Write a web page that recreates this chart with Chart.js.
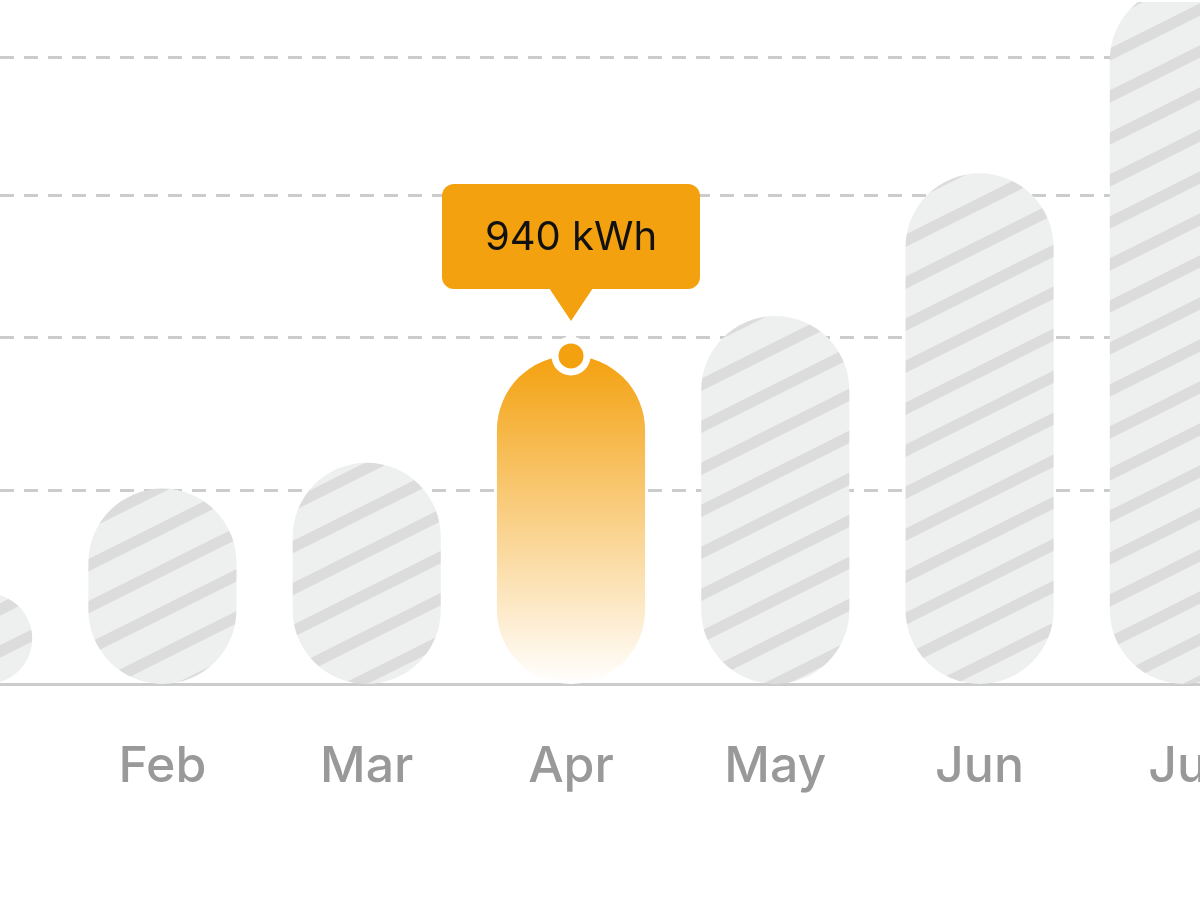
<!DOCTYPE html>
<html>
<head>
<meta charset="utf-8">
<script src="https://cdn.jsdelivr.net/npm/chart.js@4/dist/chart.umd.min.js"></script>
<style>
  html, body { margin: 0; padding: 0; background: #ffffff; overflow: hidden; }
  #wrap { position: absolute; left: -167px; top: -21px; width: 1476px; height: 974px; }
</style>
</head>
<body>
<div id="wrap"><canvas id="grafico"></canvas></div>
<script>
const meses = ["Jan", "Feb", "Mar", "Apr", "May", "Jun", "Jul"];
const consumo = [260, 560, 634, 940, 1054, 1463, 2000];
const linhasGrade = [554, 994, 1400, 1794];
const destaque = 3;
const unidade = "kWh";

function criarHachura() {
    const c = document.createElement("canvas");
    c.width = 84;
    c.height = 42;
    const g = c.getContext("2d");
    g.fillStyle = "#eeefef";
    g.fillRect(0, 0, 84, 42);
    g.strokeStyle = "#dcdcdc";
    g.lineWidth = 11;
    for (let k = -1; k <= 1; k++) {
        g.beginPath();
        g.moveTo(-84, 42 + k * 42 + 42);
        g.lineTo(168, k * 42 - 84 + 42);
        g.stroke();
    }
    return g.createPattern(c, "repeat");
}

const hachura = criarHachura();

function corBarra(context) {
    if (context.dataIndex !== destaque) return hachura;
    const area = context.chart.chartArea;
    if (!area) return "#f4a10f";
    const y = context.chart.scales.y;
    const grad = context.chart.ctx.createLinearGradient(0, y.getPixelForValue(consumo[destaque]), 0, area.bottom);
    grad.addColorStop(0, "#f4a10f");
    grad.addColorStop(1, "#ffffff");
    return grad;
}

const balao = {
    id: "balao",
    afterDraw(chart) {
        const ponto = chart.getDatasetMeta(1).data[destaque];
        if (!ponto) return;
        const ctx = chart.ctx;
        const cx = ponto.x;
        const base = ponto.y - 35;
        const w = 258, h = 105, r = 12;
        const x0 = cx - w / 2, y0 = base - 32 - h;
        ctx.save();
        ctx.fillStyle = "#f4a10f";
        ctx.beginPath();
        ctx.roundRect(x0, y0, w, h, r);
        ctx.fill();
        ctx.beginPath();
        ctx.moveTo(cx - 22, y0 + h - 1);
        ctx.lineTo(cx + 22, y0 + h - 1);
        ctx.lineTo(cx, base);
        ctx.closePath();
        ctx.fill();
        ctx.fillStyle = "#111111";
        ctx.font = "400 40px Inter";
        ctx.textAlign = "center";
        ctx.textBaseline = "middle";
        ctx.fillText(consumo[destaque] + " " + unidade, cx, y0 + h / 2 + 2);
        ctx.restore();
    }
};

const ctx = document.getElementById("grafico").getContext("2d");

new Chart(ctx, {
    type: "bar",
    data: {
        labels: meses,
        datasets: [{
            data: consumo,
            backgroundColor: corBarra,
            borderRadius: 80,
            borderSkipped: false,
            barPercentage: 0.725,
            categoryPercentage: 1,
            order: 2
        }, {
            type: "line",
            data: consumo.map((v, i) => i === destaque ? v : null),
            showLine: false,
            pointRadius: 16,
            pointBackgroundColor: "#f4a10f",
            pointBorderColor: "#ffffff",
            pointBorderWidth: 7,
            clip: false,
            order: 1
        }]
    },
    plugins: [balao],
    options: {
        responsive: true,
        maintainAspectRatio: false,
        animation: false,
        layout: { padding: { top: 0, bottom: 111, left: 0, right: 0 } },
        scales: {
            x: {
                grid: { display: false },
                border: { display: true, color: "#cccccc", width: 3 },
                ticks: {
                    padding: 45,
                    color: "#999999",
                    font: { size: 50, family: "Inter", weight: "500" }
                }
            },
            y: {
                min: 0,
                max: 1954,
                afterBuildTicks: (axis) => {
                    axis.ticks = linhasGrade.map((v) => ({ value: v }));
                },
                ticks: { display: false },
                border: { display: false, dash: [14, 10] },
                grid: { color: "#cccccc", lineWidth: 3, drawTicks: false }
            }
        },
        plugins: {
            legend: { display: false },
            tooltip: { enabled: false }
        }
    }
});
</script>
</body>
</html>
